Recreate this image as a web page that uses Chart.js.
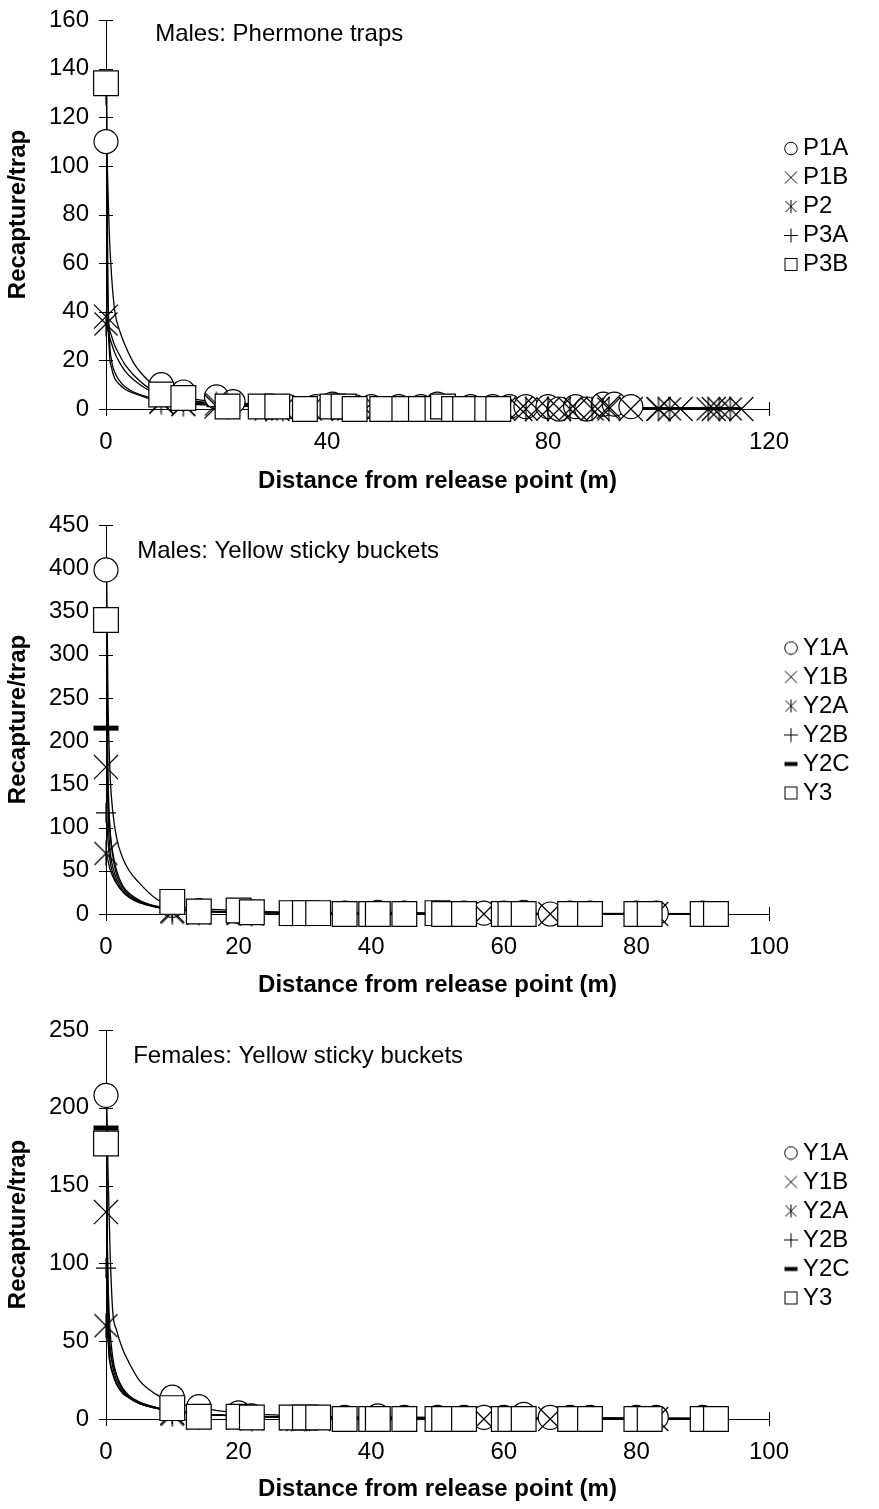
<!DOCTYPE html>
<html><head><meta charset="utf-8">
<script src="https://cdn.jsdelivr.net/npm/chart.js@4.4.1/dist/chart.umd.min.js"></script>
<style>
html,body{margin:0;padding:0;background:#fff;}
.wrap{position:absolute;left:0;width:879px;height:503px;}
</style></head><body>
<div class="wrap" style="top:0"><canvas id="c1"></canvas></div>
<div class="wrap" style="top:503px"><canvas id="c2"></canvas></div>
<div class="wrap" style="top:1006px"><canvas id="c3"></canvas></div>
<script>
// ---------- Chart 1: Males, pheromone traps ----------
const p1Names = ['P1A','P1B','P2','P3A','P3B'];
const p1A_x = [0,10,14,20,23,30,33,38,41,45,48,53,57,60,62,66,70,73,76,80,82,85,87,90,92,95];
const p1A_y = [110,10,7,5,3,1,1,1,2,1,1,1,1,2,1,1,1,1,1,1,0,1,0,2,2,1];
const p1B_x = [0,10,14,20,22,28,31,36,41,43,47,50,54,58,61,63,67,71,75,78,82,85,89,91,95,100,104,110,115];
const p1B_y = [38,3,2,1,1,1,0,0,1,0,0,0,0,0,0,0,0,0,0,0,0,0,0,1,0,0,0,0,0];
const p2_x = [0,10,14,20,22,29,32,37,41,44,49,53,58,61,63,68,72,76,80,84,88,91,100,102,109,111,113];
const p2_y = [35,3,2,2,1,0,0,0,1,0,0,0,0,1,0,0,0,0,0,0,0,0,0,0,0,0,0];
const p3A_x = [0,10,14,20,22,28,31,36,41,45,50,54,57,60,62,65,69];
const p3A_y = [129,5,3,1,1,1,0,0,1,0,0,0,0,0,0,0,0];
const p3B_x = [0,10,14,22,28,31,36,41,43,45,50,54,57,60,61,63,65,69,71];
const p3B_y = [134,6,4.5,1,1,1,0,1,1,0,0,0,0,0,1,0,0,0,0];
const p1FitX = [0.1,0.3,0.6,1,1.6,2.5,3.5,5,7.5,10,15,20,30,45,70,115];
const p1A_fit = [110,95,72,55,40,32,26,19,12,7.5,4.5,3,1.8,1.1,0.7,0.4];
const p1B_fit = [38,36,33,30,26,22,18,14,9,6,3.5,2.4,1.4,0.9,0.5,0.3];
const p2_fit  = [35,33,30,27,23,19,15.5,12,8,5.5,3.2,2.2,1.3,0.8,0.5,0.3];
const p3A_fit = [129,60,30,20,15,11.5,9,7,5,3.8,2.5,1.8,1.1,0.7,0.4,0.2];
const p3B_fit = [134,50,24,17,12.5,10,8,6.5,4.5,3,2,1.4,0.9,0.5,0.3,0.2];
const p1XTicks = [0,40,80,120];
const p1YTicks = [0,20,40,60,80,100,120,140,160];

// ---------- Charts 2 & 3: Yellow sticky buckets ----------
const yNames = ['Y1A','Y1B','Y2A','Y2B','Y2C','Y3'];
const y1A_x = [0,10,14,20,22,28,32,36,41,45,50,54,57,60,63,67,70,73,80,83,90];
const y1B_x = [0,10,14,20,22,29,32,36,40,45,51,54,57,60,63,67,70,73,80,83,90,92];
const y2A_x = [0,10,14,20,22,28,30,36,41,45,50,54,60,63,70,73,80,82,90,92];
const y2B_x = [0,10,14,20,22,28,30,36,41,45,50,54,60,63,70,73,80,82,90,92];
const y2C_x = [0,10,14,20,22,28,30,36,41,45,50,54,60,63,70,73,80,82,90,92];
const y3_x  = [0,10,14,20,22,28,30,32,36,40,41,45,50,51,54,60,61,63,70,73,80,82,90,92];
// males
const m_y1A = [398,10,4,3,2,1,1,1,2,1,1,1,1,1,2,0,1,1,1,1,1];
const m_y1B = [170,4,2,1,1,0,0,0,0,0,0,0,0,0,0,0,0,0,0,0,0,0];
const m_y2A = [70,2,1,1,0,0,0,0,0,0,0,0,0,0,0,0,0,0,0,0];
const m_y2B = [117,3,1,1,0,0,0,0,0,0,0,0,0,0,0,0,0,0,0,0];
const m_y2C = [215,4,2,1,1,0,0,0,0,0,0,0,0,0,0,0,0,0,0,0];
const m_y3  = [340,14,3,4,2,1,1,1,0,0,0,0,1,0,0,0,0,0,0,0,0,0,0,0];
// females
const f_y1A = [208,14,8,4,2,1,1,1,2,1,1,1,1,1,3,1,1,1,1,1,1];
const f_y1B = [133,4,2,1,1,0,0,0,0,0,0,0,0,0,0,0,0,0,0,0,0,0];
const f_y2A = [60,3,1,1,0,0,0,0,0,0,0,0,0,0,0,0,0,0,0,0];
const f_y2B = [97,3,1,1,0,0,0,0,0,0,0,0,0,0,0,0,0,0,0,0];
const f_y2C = [187,4,2,1,1,0,0,0,0,0,0,0,0,0,0,0,0,0,0,0];
const f_y3  = [177,7,1.5,1.5,1,1,1,1,0,0,0,0,0,0,0,0,0,0,0,0,0,0,0,0];
const yFitX = [0.1,0.3,0.6,1,1.6,2.5,3.5,5,7.5,10,15,20,30,45,70,92];
const m_y1A_fit = [398,250,165,120,88,65,50,36,18,10,6,4,2,1.2,0.7,0.5];
const m_y1B_fit = [170,130,95,72,50,33,24,16,9,6,3,2,1,0.6,0.4,0.3];
const m_y2A_fit = [70,62,52,44,35,26,20,14,8,5.5,3,2,1,0.6,0.4,0.3];
const m_y2B_fit = [117,85,62,48,36,26,19,13,8,5.5,3,2,1,0.6,0.4,0.3];
const m_y2C_fit = [215,120,75,55,40,28,20,14,8.5,6,3,2,1,0.6,0.4,0.3];
const m_y3_fit  = [340,170,100,68,45,31,22,15,9,6.5,3.5,2.2,1.1,0.7,0.4,0.3];
const f_y1A_fit = [208,160,110,70,57,45,36,25,16,11,6.5,4,2,1.2,0.7,0.5];
const f_y1B_fit = [133,90,58,40,28,19,14,10,7,5,3,2,1,0.6,0.4,0.3];
const f_y2A_fit = [60,52,44,36,28,20,15,11,7.5,5.5,3,2,1,0.6,0.4,0.3];
const f_y2B_fit = [97,70,48,34,25,18,13.5,10,7,5,3,2,1,0.6,0.4,0.3];
const f_y2C_fit = [187,60,38,30,23,17,14,10.5,7.5,5.5,3,2,1,0.6,0.4,0.3];
const f_y3_fit  = [177,58,36,29,22,16.5,13.5,10,7,5.2,3,2,1,0.6,0.4,0.3];
const yXTicks = [0,20,40,60,80,100];
const mYTicks = [0,50,100,150,200,250,300,350,400,450];
const fYTicks = [0,50,100,150,200,250];

// ---------- styling ----------
const FONT = '"Liberation Sans", Arial, Helvetica, sans-serif';
const FS = 24;
Chart.defaults.font.family = FONT;
Chart.defaults.color = '#000';

function markCanvas(w, h, draw) {
  const c = document.createElement('canvas');
  c.width = w; c.height = h;
  const g = c.getContext('2d');
  g.strokeStyle = '#000'; g.fillStyle = '#fff';
  draw(g, w, h);
  return c;
}
const STAR_BIG = markCanvas(26, 26, (g, s) => {
  g.lineWidth = 1.2; g.beginPath();
  g.moveTo(1.5, 1.5); g.lineTo(s - 1.5, s - 1.5);
  g.moveTo(s - 1.5, 1.5); g.lineTo(1.5, s - 1.5);
  g.moveTo(s / 2, 0.5); g.lineTo(s / 2, s - 0.5);
  g.stroke();
});
// legend symbols: 33 px wide image, symbol drawn 8.5 px right of the image centre
const LW = 33, LH = 15, LC = 25, LM = 7.5;
function legMark(draw) {
  return markCanvas(LW, LH, g => { g.translate(LC, LM); g.lineWidth = 1; draw(g); });
}
const LEG = {
  circle: legMark(g => { g.beginPath(); g.arc(0, 0, 6.3, 0, Math.PI * 2); g.fill(); g.stroke(); }),
  x: legMark(g => { g.beginPath(); g.moveTo(-6, -6); g.lineTo(6, 6); g.moveTo(6, -6); g.lineTo(-6, 6); g.stroke(); }),
  star: legMark(g => { g.beginPath(); g.moveTo(-5.5, -5.5); g.lineTo(5.5, 5.5); g.moveTo(5.5, -5.5); g.lineTo(-5.5, 5.5); g.moveTo(0, -6.5); g.lineTo(0, 6.5); g.stroke(); }),
  plus: legMark(g => { g.beginPath(); g.moveTo(-7, 0); g.lineTo(7, 0); g.moveTo(0, -7); g.lineTo(0, 7); g.stroke(); }),
  dash: legMark(g => { g.fillStyle = '#000'; g.fillRect(-6.5, -2, 13, 4); }),
  square: legMark(g => { g.fillRect(-6, -6, 12, 12); g.strokeRect(-6, -6, 12, 12); })
};

const markerStyles = {
  circle: {pointStyle: 'circle', pointRadius: 12, pointBorderWidth: 1.2},
  x:      {pointStyle: 'crossRot', pointRadius: 17, pointBorderWidth: 1.2},
  star:   {pointStyle: STAR_BIG, pointRadius: 13, pointBorderWidth: 1.2},
  plus:   {pointStyle: 'cross', pointRadius: 10, pointBorderWidth: 1.2},
  dash:   {pointStyle: 'line', pointRadius: 12.5, pointBorderWidth: 5},
  square: {pointStyle: 'rect', pointRadius: 17.5, pointBorderWidth: 1.2}
};

function pts(xs, ys) { return xs.map((x, i) => ({x: x, y: ys[i]})); }

const crossTicks = {
  id: 'crossTicks',
  beforeDatasetsDraw(chart) {
    const {ctx, chartArea: a, scales: {x, y}} = chart;
    ctx.save();
    ctx.strokeStyle = '#000'; ctx.lineWidth = 1;
    ctx.beginPath();
    x.ticks.forEach(t => {
      const px = Math.round(x.getPixelForValue(t.value)) + 0.5;
      ctx.moveTo(px, a.bottom - 7); ctx.lineTo(px, a.bottom + 7);
    });
    y.ticks.forEach(t => {
      const py = Math.round(y.getPixelForValue(t.value)) + 0.5;
      ctx.moveTo(a.left - 7, py); ctx.lineTo(a.left + 7, py);
    });
    ctx.stroke();
    ctx.restore();
  }
};
const note = {
  id: 'note',
  afterDatasetsDraw(chart, args, o) {
    const {ctx, scales: {x, y}} = chart;
    ctx.save();
    ctx.font = o.font; ctx.fillStyle = '#000';
    ctx.textAlign = 'left'; ctx.textBaseline = 'middle';
    ctx.fillText(o.text, x.getPixelForValue(o.x), y.getPixelForValue(o.y));
    ctx.restore();
  }
};
const legendBox = {
  id: 'legendBox',
  beforeLayout(chart, args, o) {
    const lg = chart.legend;
    if (lg && !lg._wrapped) {
      const f = lg.fit;
      lg.fit = function () { f.call(this); this.width = o.width; };
      lg._wrapped = true;
    }
  },
  afterLayout(chart, args, o) {
    const lg = chart.legend;
    if (lg) { lg.top += o.dy; lg.bottom += o.dy; }
  }
};

function build(id, cfg) {
  const datasets = [];
  const n = cfg.names.length;
  cfg.names.forEach((name, i) => {
    const st = markerStyles[cfg.markers[i]];
    datasets.push(Object.assign({
      label: name,
      data: pts(cfg.xs[i], cfg.ys[i]),
      legendPointStyle: LEG[cfg.markers[i]],
      showLine: false,
      borderColor: '#000',
      backgroundColor: '#fff',
      pointBackgroundColor: '#fff',
      pointBorderColor: '#000',
      pointHoverRadius: st.pointRadius,
      order: n - i,
      clip: false
    }, st));
  });
  cfg.names.forEach((name, i) => {
    datasets.push({
      label: name + ' fit',
      isFit: true,
      data: pts(cfg.fitX, cfg.fits[i]),
      showLine: true,
      pointRadius: 0,
      borderColor: '#000',
      borderWidth: 1.3,
      cubicInterpolationMode: 'monotone',
      order: 100
    });
  });
  const hiddenGrid = {display: true, drawOnChartArea: false, drawTicks: true, color: 'rgba(0,0,0,0)'};
  return new Chart(document.getElementById(id), {
    type: 'scatter',
    data: {datasets},
    plugins: [crossTicks, note, legendBox],
    options: {
      responsive: true,
      maintainAspectRatio: false,
      animation: false,
      events: [],
      layout: {padding: {top: cfg.padTop, left: 0, right: 0, bottom: 0}},
      scales: {
        x: {
          type: 'linear', min: 0, max: cfg.xTicks[cfg.xTicks.length - 1],
          afterBuildTicks: s => { s.ticks = cfg.xTicks.map(v => ({value: v})); },
          afterFit: s => { s.height = cfg.xHeight; },
          grid: Object.assign({tickLength: 18.6}, hiddenGrid),
          border: {display: true, color: '#000', width: 1},
          ticks: {padding: 0, font: {size: FS}, color: '#000', maxRotation: 0},
          title: {display: true, text: 'Distance from release point (m)',
                  font: {size: FS, weight: 'bold'}, color: '#000',
                  padding: {top: 0, bottom: cfg.titlePad}}
        },
        y: {
          type: 'linear', min: 0, max: cfg.yTicks[cfg.yTicks.length - 1],
          afterBuildTicks: s => { s.ticks = cfg.yTicks.map(v => ({value: v})); },
          afterFit: s => { s.width = 106; },
          grid: Object.assign({tickLength: 17}, hiddenGrid),
          border: {display: true, color: '#000', width: 1},
          ticks: {padding: 0, font: {size: FS}, color: '#000'},
          title: {display: true, text: 'Recapture/trap',
                  font: {size: FS, weight: 'bold'}, color: '#000',
                  padding: {top: 4, bottom: 0}}
        }
      },
      plugins: {
        tooltip: {enabled: false},
        title: {display: false},
        note: cfg.note,
        legendBox: {width: 110, dy: cfg.legendDy},
        legend: {
          display: true,
          position: 'right',
          align: 'center',
          labels: {
            usePointStyle: true,
            boxWidth: 17,
            boxHeight: 10,
            padding: 5,
            color: '#000',
            font: {size: FS},
            filter: (item, data) => !data.datasets[item.datasetIndex].isFit,
            sort: (a, b) => a.datasetIndex - b.datasetIndex,
            generateLabels: chart => {
              const items = Chart.defaults.plugins.legend.labels.generateLabels(chart);
              items.forEach(it => {
                const ds = chart.data.datasets[it.datasetIndex];
                if (ds.legendPointStyle) it.pointStyle = ds.legendPointStyle;
              });
              return items;
            }
          }
        }
      }
    }
  });
}

build('c1', {
  names: p1Names,
  markers: ['circle', 'x', 'star', 'plus', 'square'],
  xs: [p1A_x, p1B_x, p2_x, p3A_x, p3B_x],
  ys: [p1A_y, p1B_y, p2_y, p3A_y, p3B_y],
  fitX: p1FitX,
  fits: [p1A_fit, p1B_fit, p2_fit, p3A_fit, p3B_fit],
  xTicks: p1XTicks, yTicks: p1YTicks,
  padTop: 20, xHeight: 94, titlePad: 7, legendDy: -55,
  note: {text: 'Males: Phermone traps', x: 8.9, y: 154, font: FS + 'px ' + FONT}
});
build('c2', {
  names: yNames,
  markers: ['circle', 'x', 'star', 'plus', 'dash', 'square'],
  xs: [y1A_x, y1B_x, y2A_x, y2B_x, y2C_x, y3_x],
  ys: [m_y1A, m_y1B, m_y2A, m_y2B, m_y2C, m_y3],
  fitX: yFitX,
  fits: [m_y1A_fit, m_y1B_fit, m_y2A_fit, m_y2B_fit, m_y2C_fit, m_y3_fit],
  xTicks: yXTicks, yTicks: mYTicks,
  padTop: 22, xHeight: 92, titlePad: 6, legendDy: -45,
  note: {text: 'Males: Yellow sticky buckets', x: 4.7, y: 419, font: FS + 'px ' + FONT}
});
build('c3', {
  names: yNames,
  markers: ['circle', 'x', 'star', 'plus', 'dash', 'square'],
  xs: [y1A_x, y1B_x, y2A_x, y2B_x, y2C_x, y3_x],
  ys: [f_y1A, f_y1B, f_y2A, f_y2B, f_y2C, f_y3],
  fitX: yFitX,
  fits: [f_y1A_fit, f_y1B_fit, f_y2A_fit, f_y2B_fit, f_y2C_fit, f_y3_fit],
  xTicks: yXTicks, yTicks: fYTicks,
  padTop: 24, xHeight: 90, titlePad: 5, legendDy: -44,
  note: {text: 'Females: Yellow sticky buckets', x: 4.1, y: 233, font: FS + 'px ' + FONT}
});
</script>
</body></html>
